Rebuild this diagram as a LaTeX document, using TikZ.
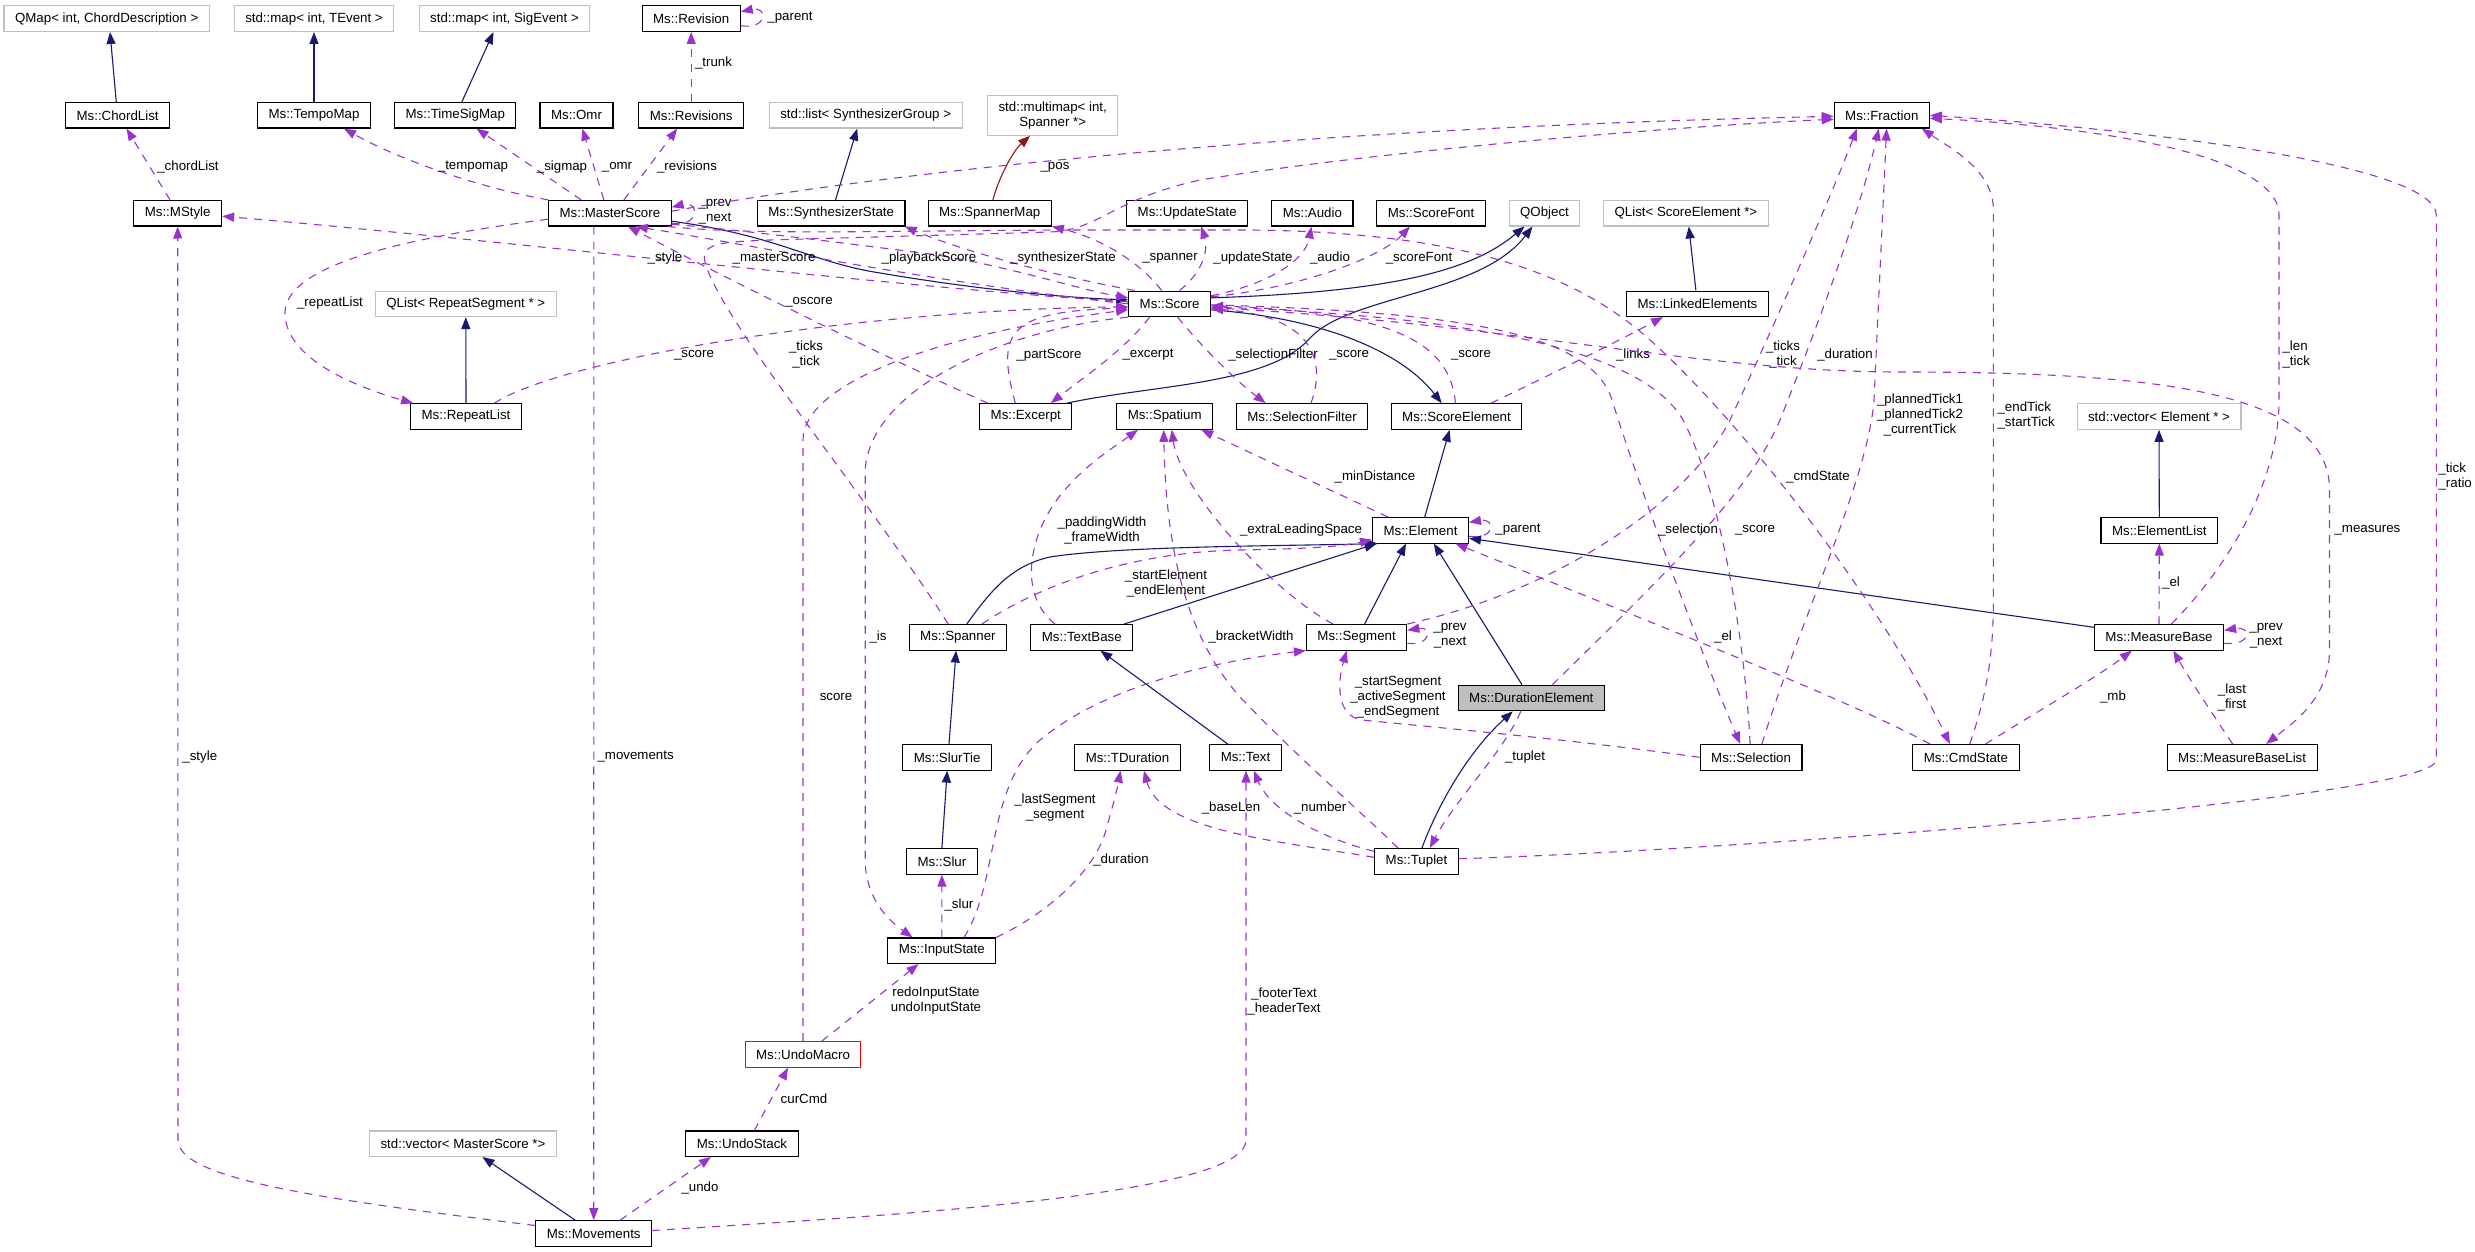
\documentclass[tikz,border=0pt]{standalone}
\usepackage{fontspec}
\setmainfont{Liberation Sans}
\usepackage{tikz}
\usetikzlibrary{arrows.meta}
\definecolor{usecol}{HTML}{9A32CD}
\definecolor{inhcol}{HTML}{191970}
\definecolor{tplcol}{HTML}{8B1A1A}
\definecolor{extgray}{HTML}{BFBFBF}

\begin{document}
\begin{tikzpicture}[x=1pt,y=-1pt,
    every node/.style={font=\fontsize{13.3}{15}\selectfont},
    cls/.style={draw=black,line width=1.1pt,fill=white,minimum height=25.5pt,inner xsep=11pt,inner ysep=0pt},
    ext/.style={cls,draw=extgray},
    inh/.style={draw=inhcol,line width=1.1pt,-{Triangle[length=12pt,width=9pt]}},
    tpl/.style={inh,draw=tplcol},
    use/.style={draw=usecol,line width=1.1pt,dash pattern=on 8pt off 7pt,-{Triangle[length=12pt,width=9pt]}},
    lbl/.style={inner sep=0pt,align=center}]
                      \useasboundingbox (0,0) rectangle (2475,1252);
                      \node[ext] (qmap) at (106.7,18.7) {QMap< int, ChordDescription >};
                      \node[ext] (maptev) at (314,18.7) {std::map< int, TEvent >};
                      \node[ext] (mapsig) at (504.5,18.7) {std::map< int, SigEvent >};
                      \node[cls] (revision) at (691.2,18.7) {Ms::Revision};
                      \node[cls] (chordlist) at (117.6,115.3) {Ms::ChordList};
                      \node[cls] (tempomap) at (314,115.3) {Ms::TempoMap};
                      \node[cls] (timesigmap) at (455.3,115.3) {Ms::TimeSigMap};
                      \node[cls] (omr) at (576.5,115.3) {Ms::Omr};
                      \node[cls] (revisions) at (691.2,115.3) {Ms::Revisions};
                      \node[ext] (synthlist) at (865.7,115.3) {std::list< SynthesizerGroup >};
                      \node[ext,align=center,minimum height=40pt] (multimap) at (1052.7,115.3) {std::multimap< int,\\Spanner *>};
                      \node[cls] (fraction) at (1881.8,115.3) {Ms::Fraction};
                      \node[cls] (mstyle) at (177.7,213.2) {Ms::MStyle};
                      \node[cls] (masterscore) at (609.9,213.2) {Ms::MasterScore};
                      \node[cls] (synthstate) at (831.2,213.2) {Ms::SynthesizerState};
                      \node[cls] (spannermap) at (989.7,213.2) {Ms::SpannerMap};
                      \node[cls] (updatestate) at (1187.2,213.2) {Ms::UpdateState};
                      \node[cls] (audio) at (1312.4,213.2) {Ms::Audio};
                      \node[cls] (scorefont) at (1431,213.2) {Ms::ScoreFont};
                      \node[ext] (qobject) at (1544.5,213.2) {QObject};
                      \node[ext] (qlistse) at (1685.9,213.2) {QList< ScoreElement *>};
                      \node[ext] (qlistrs) at (465.8,303.8) {QList< RepeatSegment * >};
                      \node[cls] (score) at (1169.6,303.8) {Ms::Score};
                      \node[cls] (linkedelems) at (1697.5,303.8) {Ms::LinkedElements};
                      \node[cls] (repeatlist) at (466,416.5) {Ms::RepeatList};
                      \node[cls] (excerpt) at (1025.8,416.5) {Ms::Excerpt};
                      \node[cls] (spatium) at (1164.7,416.5) {Ms::Spatium};
                      \node[cls] (selfilter) at (1302,416.5) {Ms::SelectionFilter};
                      \node[cls] (scoreelem) at (1456.5,416.5) {Ms::ScoreElement};
                      \node[ext] (vecelem) at (2159,416.5) {std::vector< Element * >};
                      \node[cls] (element) at (1420.5,530.3) {Ms::Element};
                      \node[cls] (elementlist) at (2159.3,530.3) {Ms::ElementList};
                      \node[cls] (spanner) at (957.9,637.3) {Ms::Spanner};
                      \node[cls] (textbase) at (1081.8,637.3) {Ms::TextBase};
                      \node[cls] (segment) at (1356.6,637.3) {Ms::Segment};
                      \node[cls] (measurebase) at (2159,637.3) {Ms::MeasureBase};
                      \node[cls,fill=extgray] (durationelem) at (1531.3,698) {Ms::DurationElement};
                      \node[cls] (slurtie) at (947.2,757.3) {Ms::SlurTie};
                      \node[cls] (tduration) at (1127.5,757.3) {Ms::TDuration};
                      \node[cls] (text) at (1245.5,757.3) {Ms::Text};
                      \node[cls] (selection) at (1751.1,757.3) {Ms::Selection};
                      \node[cls] (cmdstate) at (1965.9,757.3) {Ms::CmdState};
                      \node[cls] (mblist) at (2242.1,757.3) {Ms::MeasureBaseList};
                      \node[cls] (slur) at (941.9,861.3) {Ms::Slur};
                      \node[cls] (tuplet) at (1416.5,861.3) {Ms::Tuplet};
                      \node[cls] (inputstate) at (941.8,950.7) {Ms::InputState};
                      \node[cls,draw=red] (undomacro) at (803,1054.5) {Ms::UndoMacro};
                      \node[ext] (vecms) at (463,1143.7) {std::vector< MasterScore *>};
                      \node[cls] (undostack) at (742,1143.7) {Ms::UndoStack};
                      \node[cls] (movements) at (593.7,1233.5) {Ms::Movements};

                      \draw[inh] ([xshift=-1.3pt]chordlist.north) -- ([xshift=3.3pt]qmap.south);
                      \draw[inh] (tempomap.north) -- (maptev.south);
                      \draw[inh] ([xshift=6.5pt]timesigmap.north) -- ([xshift=-11pt]mapsig.south);
                      \draw[inh] (repeatlist.north) -- (qlistrs.south);
                      \draw[inh] ([xshift=4.3pt]synthstate.north) -- ([xshift=-8.5pt]synthlist.south);
                      \draw[tpl] ([xshift=3.2pt]spannermap.north) .. controls (998,180) and (1012,152) .. ([xshift=-22.7pt]multimap.south);
                      \draw[inh] ([yshift=-8pt]masterscore.east) .. controls (780,236) and (810,262) .. (880,273) .. controls (980,290) and (1070,298) .. ([yshift=4pt]score.west);
                      \draw[inh] ([yshift=6pt]score.east) .. controls (1400,292) and (1475,268) .. ([xshift=-20pt]qobject.south);
                      \draw[inh] ([xshift=41pt]excerpt.north) .. controls (1150,385) and (1270,385) .. (1310,338) .. controls (1350,295) and (1480,295) .. ([xshift=-12pt]qobject.south);
                      \draw[inh] ([yshift=-6pt]score.east) .. controls (1320,318) and (1400,350) .. ([xshift=-14.8pt]scoreelem.north);
                      \draw[inh] ([xshift=-1.6pt]linkedelems.north) -- ([xshift=2.9pt]qlistse.south);
                      \draw[inh] ([xshift=4.2pt]element.north) -- ([xshift=-6.9pt]scoreelem.south);
                      \draw[inh] ([xshift=8.9pt]spanner.north) .. controls (990,592) and (1010,566) .. (1050,557) .. controls (1120,546) and (1280,546) .. ([xshift=6pt]element.south west);
                      \draw[inh] ([xshift=42.4pt]textbase.north) -- ([xshift=-44pt]element.south);
                      \draw[inh] ([xshift=8pt]segment.north) -- ([xshift=-14.5pt]element.south);
                      \draw[inh] ([xshift=-9.3pt]durationelem.north) -- ([xshift=13.3pt]element.south);
                      \draw[inh] ([yshift=10pt]measurebase.west) -- ([yshift=-8pt]element.east);
                      \draw[inh] (elementlist.north) -- (vecelem.south);
                      \draw[inh] ([xshift=1.8pt]slurtie.north) -- ([xshift=-1.8pt]spanner.south);
                      \draw[inh] (slur.north) -- (slurtie.south);
                      \draw[inh] ([xshift=-17.8pt]text.north) -- ([xshift=18.6pt]textbase.south);
                      \draw[inh] ([xshift=5.4pt]tuplet.north) .. controls (1440,800) and (1470,750) .. ([xshift=-18.5pt]durationelem.south);
                      \draw[inh] ([xshift=-18.4pt]movements.north) -- ([xshift=19.4pt]vecms.south);

                      \draw[use] ([xshift=-7.7pt]mstyle.north) -- ([xshift=8.9pt]chordlist.south) node[lbl] at (188,167) {\_chordList};
                      \draw[use] ([xshift=-61.5pt]masterscore.north) .. controls (480,188) and (400,160) .. ([xshift=30pt]tempomap.south) node[lbl] at (473,167) {\_tempomap};
                      \draw[use] ([xshift=-28.6pt]masterscore.north) -- ([xshift=21.2pt]timesigmap.south) node[lbl] at (562,167) {\_sigmap};
                      \draw[use] ([xshift=-6.1pt]masterscore.north) -- ([xshift=5.9pt]omr.south) node[lbl] at (617,167) {\_omr};
                      \draw[use] ([xshift=14pt]masterscore.north) -- ([xshift=-14pt]revisions.south) node[lbl] at (687,167) {\_revisions};
                      \draw[use] (revisions.north) -- (revision.south) node[lbl] at (713.5,62.7) {\_trunk};
                      \draw[use] ([yshift=-7pt]revision.east) .. controls (768,30) and (768,6) .. ([yshift=7pt]revision.east) node[lbl] at (790,17.7) {\_parent};
                      \draw[use] ([yshift=-10pt]masterscore.east) .. controls (700,228) and (700,200) .. ([yshift=6pt]masterscore.east) node[lbl] at (715,212) {\_prev\\\_next};
                      \draw[use] ([yshift=2pt]masterscore.east) .. controls (900,170) and (1300,128) .. ([yshift=-1pt]fraction.west) node[lbl] at (1055,167) {\_pos};
                      \draw[use] ([xshift=-9.7pt]spanner.north) .. controls (870,500) and (720,320) .. (705,262) .. controls (700,242) and (725,242) .. (770,240) -- (1050,232) .. controls (1100,230) and (1110,200) .. (1200,180) .. controls (1400,148) and (1700,125) .. ([yshift=-4pt]fraction.west) node[lbl] at (806,355) {\_ticks\\\_tick};
                      \draw[use] (score.west) .. controls (950,285) and (750,245) .. ([xshift=26pt]masterscore.south) node[lbl] at (774,258.3) {\_masterScore};
                      \draw[use] ([xshift=-38pt]excerpt.north) .. controls (880,355) and (720,275) .. ([xshift=18pt]masterscore.south) node[lbl] at (809,302.7) {\_oscore};
                      \draw[use] ([yshift=-11pt]masterscore.east) .. controls (760,232) and (850,244) .. (930,254) .. controls (1010,266) and (1080,290) .. ([yshift=6pt]score.west) node[lbl] at (929,258.3) {\_playbackScore};
                      \draw[use] ([xshift=-35pt]score.north) .. controls (1050,275) and (960,250) .. ([xshift=73.5pt]synthstate.south) node[lbl] at (1063,258.3) {\_synthesizerState};
                      \draw[use] ([xshift=-8pt]score.north) .. controls (1140,262) and (1100,238) .. (spannermap.south east) node[lbl] at (1170,258.3) {\_spanner};
                      \draw[use] ([xshift=10pt]score.north) .. controls (1205,270) and (1208,248) .. ([xshift=14pt]updatestate.south) node[lbl] at (1253,258.3) {\_updateState};
                      \draw[use] ([yshift=8pt]score.east) .. controls (1265,285) and (1305,262) .. ([xshift=-1pt]audio.south) node[lbl] at (1330,258.3) {\_audio};
                      \draw[use] ([yshift=7pt]score.east) .. controls (1300,288) and (1380,258) .. ([xshift=-21pt]scorefont.south) node[lbl] at (1419,258.3) {\_scoreFont};
                      \draw[use] ([yshift=2pt]score.west) .. controls (900,288) and (500,240) .. ([yshift=-3pt]mstyle.east) node[lbl] at (665,258.3) {\_style};
                      \draw[use] ([xshift=28.3pt]repeatlist.north) .. controls (560,360) and (850,310) .. ([yshift=-3pt]score.west) node[lbl] at (694,355) {\_score};
                      \draw[use] ([yshift=-6pt]masterscore.west) .. controls (420,236) and (285,262) .. (285,313) .. controls (285,360) and (360,388) .. ([xshift=3pt]repeatlist.north west) node[lbl] at (330,302.7) {\_repeatList};
                      \draw[use] ([xshift=-16pt]masterscore.south) -- (movements.north) node[lbl,anchor=west] at (597,756.7) {\_movements};
                      \draw[use] ([xshift=-10.4pt]excerpt.north) .. controls (995,330) and (1010,312) .. ([yshift=-4pt]score.west) node[lbl] at (1049,355) {\_partScore};
                      \draw[use] ([xshift=-20pt]score.south) .. controls (1125,350) and (1080,380) .. ([xshift=25pt]excerpt.north) node[lbl] at (1148,355) {\_excerpt};
                      \draw[use] ([xshift=8pt]score.south) .. controls (1200,345) and (1235,380) .. ([xshift=-36.3pt]selfilter.north) node[lbl] at (1273,355) {\_selectionFilter};
                      \draw[use] ([xshift=9pt]selfilter.north) .. controls (1330,350) and (1300,315) .. ([yshift=-5pt]score.east) node[lbl] at (1349,355) {\_score};
                      \draw[use] ([xshift=-1pt]scoreelem.north) .. controls (1450,345) and (1400,312) .. ([yshift=-2pt]score.east) node[lbl] at (1471,355) {\_score};
                      \draw[use] ([xshift=34.5pt]scoreelem.north) .. controls (1560,370) and (1620,340) .. ([xshift=-34.5pt]linkedelems.south) node[lbl] at (1633,355) {\_links};
                      \draw[use] ([xshift=-32.5pt]element.north) -- ([xshift=36.5pt]spatium.south) node[lbl] at (1375,476.7) {\_minDistance};
                      \draw[use] ([xshift=-23.6pt]segment.north) .. controls (1270,590) and (1180,490) .. ([xshift=7pt]spatium.south) node[lbl] at (1301,530) {\_extraLeadingSpace};
                      \draw[use] ([xshift=-26.8pt]textbase.north) .. controls (1025,600) and (1028,560) .. (1040,530) .. controls (1060,480) and (1110,450) .. ([xshift=-26.7pt]spatium.south) node[lbl] at (1102,530) {\_paddingWidth\\\_frameWidth};
                      \draw[use] ([xshift=-18.5pt]tuplet.north) .. controls (1370,820) and (1300,760) .. (1240,697) .. controls (1190,640) and (1166,560) .. ([xshift=-1pt]spatium.south) node[lbl] at (1251,636.7) {\_bracketWidth};
                      \draw[use] ([xshift=24pt]spanner.north) .. controls (1040,585) and (1130,552) .. (1240,550) .. controls (1300,549) and (1340,547) .. ([yshift=4pt]element.south west) node[lbl] at (1166,583) {\_startElement\\\_endElement};
                      \draw[use] ([yshift=-6pt]element.east) .. controls (1496,540) and (1496,518) .. ([yshift=8pt]element.east) node[lbl] at (1518,530) {\_parent};
                      \draw[use] ([yshift=-6pt]segment.east) .. controls (1432,646) and (1432,626) .. ([yshift=7pt]segment.east) node[lbl] at (1450,636) {\_prev\\\_next};
                      \draw[use] (selection.west) .. controls (1560,738) and (1420,726) .. (1362,720) .. controls (1335,716) and (1338,680) .. ([xshift=-9.8pt]segment.south) node[lbl] at (1398,697) {\_startSegment\\\_activeSegment\\\_endSegment};
                      \draw[use] ([xshift=-10.6pt]durationelem.south) .. controls (1505,750) and (1455,800) .. ([xshift=13.3pt]tuplet.north) node[lbl] at (1525,756.7) {\_tuplet};
                      \draw[use] ([xshift=22.2pt]inputstate.north) .. controls (1000,880) and (985,790) .. (1040,740) .. controls (1100,690) and (1200,663) .. (segment.south west) node[lbl] at (1055,808) {\_lastSegment\\\_segment};
                      \draw[use] (inputstate.north east) .. controls (1050,912) and (1095,870) .. (1106,830) .. controls (1113,805) and (1117,790) .. ([xshift=-7pt]tduration.south) node[lbl] at (1121,860.3) {\_duration};
                      \draw[use] (inputstate.north) -- (slur.south) node[lbl] at (959,904.7) {\_slur};
                      \draw[use] (score.south west) .. controls (1000,330) and (870,390) .. (865.2,470) -- (865.2,860) .. controls (865.2,895) and (885,918) .. ([xshift=-29.2pt]inputstate.north) node[lbl] at (878,636.7) {\_is};
                      \draw[use] (undomacro.north) -- (803,440) .. controls (803,385) and (930,335) .. ([yshift=-6pt]score.west) node[lbl] at (836,696.7) {score};
                      \draw[use] ([xshift=18.7pt]undomacro.north) -- ([xshift=-23.3pt]inputstate.south) node[lbl] at (936,1001) {redoInputState\\undoInputState};
                      \draw[use] ([xshift=12.4pt]undostack.north) -- ([xshift=-15pt]undomacro.south) node[lbl] at (804,1098.7) {curCmd};
                      \draw[use] ([xshift=26.3pt]movements.north) -- ([xshift=-31pt]undostack.south) node[lbl] at (700,1188) {\_undo};
                      \draw[use] ([yshift=8pt]movements.west) .. controls (330,1200) and (178,1180) .. (178,1140) -- (mstyle.south) node[lbl,anchor=west] at (181.9,756.7) {\_style};
                      \draw[use] ([yshift=3pt]movements.east) .. controls (900,1215) and (1246,1195) .. (1246,1140) -- ([xshift=0.5pt]text.south) node[lbl] at (1284,1001) {\_footerText\\\_headerText};
                      \draw[use] ([yshift=4pt]tuplet.west) .. controls (1270,840) and (1160,830) .. ([xshift=16.4pt]tduration.south) node[lbl] at (1231,808.3) {\_baseLen};
                      \draw[use] ([yshift=10pt]tuplet.west) .. controls (1320,838) and (1270,810) .. ([xshift=8.3pt]text.south) node[lbl] at (1320,808.3) {\_number};
                      \draw[use] ([yshift=2.6pt]tuplet.east) .. controls (1700,852) and (2436,800) .. (2436.3,760) -- (2436.3,215) .. controls (2436.3,165) and (2150,130) .. (fraction.east) node[lbl,anchor=west,align=left] at (2438,476) {\_tick\\\_ratio};
                      \draw[use] ([xshift=12.3pt]measurebase.north) .. controls (2230,565) and (2279,480) .. (2279,400) -- (2279,215) .. controls (2279,155) and (2100,127) .. ([yshift=-3pt]fraction.east) node[lbl,anchor=west,align=left] at (2282,355) {\_len\\\_tick};
                      \draw[use] ([xshift=3.8pt]cmdstate.north) .. controls (1985,700) and (1993.4,660) .. (1993.4,600) -- (1993.4,210) .. controls (1993.4,170) and (1950,148) .. ([xshift=40pt]fraction.south) node[lbl,anchor=west,align=left] at (1997,415.8) {\_endTick\\\_startTick};
                      \draw[use] ([xshift=10.8pt]selection.north) .. controls (1800,620) and (1868,480) .. (1874,400) -- ([xshift=4.8pt]fraction.south) node[lbl] at (1920,415) {\_plannedTick1\\\_plannedTick2\\\_currentTick};
                      \draw[use] ([xshift=21pt]durationelem.north) .. controls (1680,560) and (1750,490) .. (1780,420) .. controls (1810,345) and (1858,220) .. ([xshift=-3pt]fraction.south) node[lbl] at (1845,355) {\_duration};
                      \draw[use] (segment.north east) .. controls (1560,590) and (1690,500) .. (1730,420) .. controls (1765,345) and (1830,200) .. ([xshift=-25pt]fraction.south) node[lbl] at (1783,355) {\_ticks\\\_tick};
                      \draw[use] ([xshift=-36pt]cmdstate.north) .. controls (1850,700) and (1620,610) .. ([xshift=35pt]element.south) node[lbl] at (1723,636.7) {\_el};
                      \draw[use] ([xshift=19.6pt]cmdstate.north) .. controls (2040,710) and (2100,675) .. ([xshift=-27.2pt]measurebase.south) node[lbl] at (2113,696.7) {\_mb};
                      \draw[use] ([xshift=-9.5pt]mblist.north) .. controls (2210,710) and (2190,680) .. ([xshift=14.3pt]measurebase.south) node[lbl] at (2232,697) {\_last\\\_first};
                      \draw[use] (measurebase.north) -- (elementlist.south) node[lbl] at (2171,582.7) {\_el};
                      \draw[use] ([yshift=-6pt]measurebase.east) .. controls (2252,646) and (2252,626) .. ([yshift=7pt]measurebase.east) node[lbl] at (2266,636) {\_prev\\\_next};
                      \draw[use] ([yshift=-4pt]score.east) .. controls (1500,322) and (1700,372) .. (1900,372) .. controls (2150,372) and (2329.5,390) .. (2329.5,490) -- (2329.5,650) .. controls (2329.5,700) and (2290,725) .. ([xshift=24.1pt]mblist.north) node[lbl,anchor=west] at (2334,530) {\_measures};
                      \draw[use] ([xshift=-4pt]masterscore.south east) .. controls (760,236) and (900,230) .. (1100,230) -- (1250,230) .. controls (1450,232) and (1570,268) .. (1650,340) .. controls (1740,420) and (1880,600) .. ([xshift=-16pt]cmdstate.north) node[lbl] at (1818,476.7) {\_cmdState};
                      \draw[use] ([yshift=-1pt]score.east) .. controls (1450,312) and (1590,330) .. (1612,400) .. controls (1640,490) and (1700,650) .. ([xshift=-10.9pt]selection.north) node[lbl] at (1688,530) {\_selection};
                      \draw[use] ([xshift=-1pt]selection.north) .. controls (1745,640) and (1720,490) .. (1683,420) .. controls (1640,345) and (1450,316) .. ([yshift=-3pt]score.east) node[lbl] at (1755,530) {\_score};
                  \end{tikzpicture}
\end{document}
